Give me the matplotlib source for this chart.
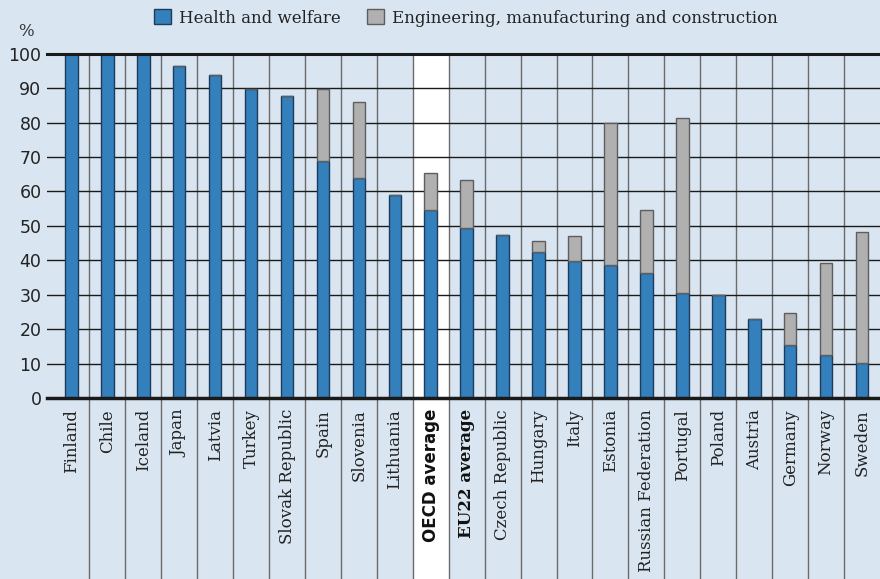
import matplotlib
matplotlib.use("Agg")
import matplotlib.pyplot as plt
from matplotlib.patches import Patch
from matplotlib.lines import Line2D

categories = ["Finland", "Chile", "Iceland", "Japan", "Latvia", "Turkey", "Slovak Republic",
              "Spain", "Slovenia", "Lithuania", "OECD average", "EU22 average", "Czech Republic",
              "Hungary", "Italy", "Estonia", "Russian Federation", "Portugal", "Poland",
              "Austria", "Germany", "Norway", "Sweden"]
health_welfare = [100, 100, 100, 96.5, 93.9, 89.7, 87.8, 68.9, 64.0, 59.0, 54.5, 49.4, 47.2,
                  42.5, 39.7, 38.5, 36.4, 30.6, 29.8, 23.0, 15.3, 12.6, 10.3]
engineering = [0, 0, 0, 0, 0, 0, 0, 20.8, 21.9, 0, 10.9, 13.8, 0,
               3.2, 7.3, 41.5, 18.1, 50.8, 0, 0, 9.5, 26.7, 38.0]
yticks = [0, 10, 20, 30, 40, 50, 60, 70, 80, 90, 100]
legend_labels = ["Health and welfare", "Engineering, manufacturing and construction"]

BG = "#d9e6f2"
BLUE = "#3380bd"
BLUE_EDGE = "#1e3c5a"
GRAY = "#b0b0b0"
GRAY_EDGE = "#5e5e5e"
SERIF = ["DejaVu Serif"]

W, H = 880, 579
fig = plt.figure(figsize=(W / 100, H / 100), dpi=100, facecolor=BG)
ax = fig.add_axes([47 / W, (H - 398) / H, (880 - 47) / W, (398 - 53.7) / H])
ax.set_facecolor(BG)

n = len(categories)
x = list(range(n))
ax.set_xlim(-0.678, n - 0.5)
ax.set_ylim(0, 100)

# white highlight column for OECD average
oecd = categories.index("OECD average")
ax.axvspan(oecd - 0.5, oecd + 0.5, ymin=-0.6, ymax=1.0, color="white", zorder=0, clip_on=False, lw=0)

# column separators extending into label area
for k in range(n - 1):
    ax.add_line(Line2D([k + 0.5, k + 0.5], [-0.6, 1.0], transform=ax.get_xaxis_transform(),
                       color="#6b6b6b", lw=1.0, zorder=1, clip_on=False))

# horizontal grid lines
for t in yticks[1:-1]:
    ax.axhline(t, color="#1a1a1a", lw=1.0, zorder=1)
ax.add_line(Line2D([0, 1], [1, 1], transform=ax.transAxes, color="#1a1a1a", lw=2.2, zorder=4, clip_on=False))
ax.add_line(Line2D([0, 1], [0, 0], transform=ax.transAxes, color="#1a1a1a", lw=2.5, zorder=4, clip_on=False))

bw = 0.35
ax.bar(x, health_welfare, width=bw, color=BLUE, edgecolor=BLUE_EDGE, lw=1.0, zorder=3)
ax.bar(x, engineering, width=bw, bottom=health_welfare, color=GRAY, edgecolor=GRAY_EDGE, lw=1.0, zorder=3)

for s in ax.spines.values():
    s.set_visible(False)

ax.set_yticks(yticks)
ax.set_yticklabels([str(t) for t in yticks], fontsize=12.5, color="#222222", family=["DejaVu Sans"])
ax.tick_params(axis="y", length=0, pad=4)
ax.set_xticks(x)
ax.set_xticklabels(categories, rotation=90, va="top", ha="center", fontsize=12, family=SERIF, color="#222222")
ax.tick_params(axis="x", length=0, pad=8)
for lbl in ax.get_xticklabels():
    if lbl.get_text() == "OECD average":
        lbl.set_fontweight("bold")
        lbl.set_family(["DejaVu Sans"])
        lbl.set_color("#111111")
    elif lbl.get_text() == "EU22 average":
        lbl.set_fontweight("bold")
        lbl.set_color("#111111")

fig.text(26 / W, 1 - 31 / H, "%", ha="center", va="center", fontsize=12, color="#333333", family=SERIF)

handles = [Patch(facecolor=BLUE, edgecolor=BLUE_EDGE), Patch(facecolor=GRAY, edgecolor=GRAY_EDGE)]
fig.legend(handles, legend_labels, loc="center", bbox_to_anchor=(466 / W, 1 - 18 / H), ncol=2,
           frameon=False, prop={"family": SERIF, "size": 12}, handlelength=1.0, handleheight=1.0,
           handletextpad=0.5, columnspacing=1.6, labelcolor="#222222")

fig.savefig("out.png", dpi=100, facecolor=BG)
